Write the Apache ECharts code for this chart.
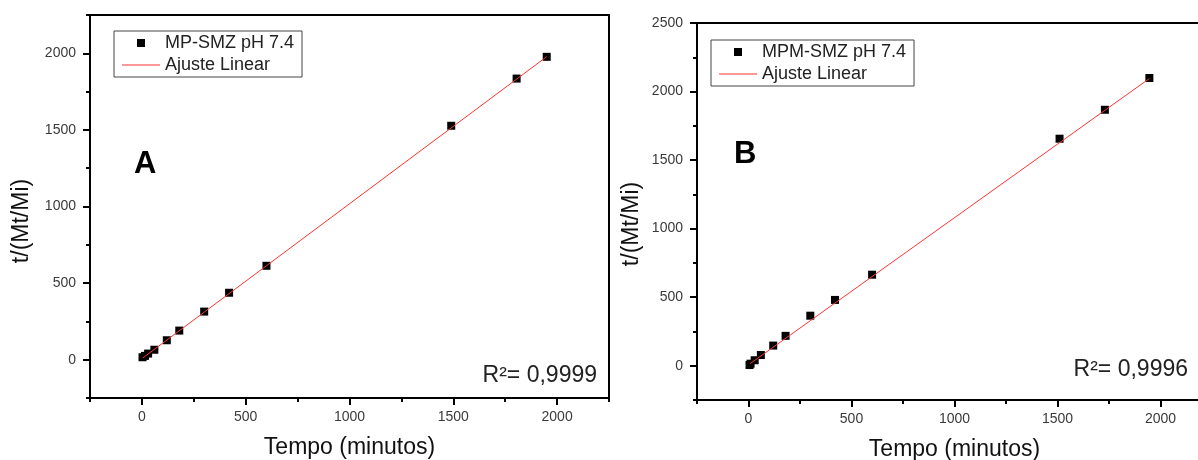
<!DOCTYPE html>
<html>
<head>
<meta charset="utf-8">
<script src="https://cdn.jsdelivr.net/npm/echarts@6/dist/echarts.min.js"></script>
<style>
html,body{margin:0;padding:0;background:#fff;}
#c{width:1198px;height:460px;}
</style>
</head>
<body>
<div id="c"></div>
<script>
// ---- Data ----
const timeA = [3, 15, 30, 60, 120, 180, 300, 420, 600, 1490, 1805, 1950];
const ratioA = [16, 25, 40, 65, 127, 190, 314, 437, 613, 1527, 1835, 1977];
const fitA = [[5, 12], [1950, 1978]];

const timeB = [5, 10, 30, 60, 120, 180, 300, 420, 600, 1510, 1730, 1946];
const ratioB = [5, 15, 40, 78, 147, 218, 365, 480, 664, 1656, 1867, 2099];
const fitB = [[8, 15], [1946, 2095]];

const nameA = 'MP-SMZ pH 7.4';
const nameB = 'MPM-SMZ pH 7.4';
const fitName = 'Ajuste Linear';
const r2A = 'R²= 0,9999';
const r2B = 'R²= 0,9996';
const xTitle = 'Tempo (minutos)';
const yTitle = 't/(Mt/Mi)';

const xMajor = [0, 500, 1000, 1500, 2000];
const xMinor = [-250, 250, 750, 1250, 1750, 2250];
const yMajorA = [0, 500, 1000, 1500, 2000];
const yMinorA = [-250, 250, 750, 1250, 1750, 2250];
const yMajorB = [0, 500, 1000, 1500, 2000, 2500];
const yMinorB = [-250, 250, 750, 1250, 1750, 2250];

const FF = 'Liberation Sans, Arial, sans-serif';
const pairs = (xs, ys) => xs.map((x, i) => [x, ys[i]]);

function mainAxis(gridIndex, pos, min, max, major, name, gap) {
  return {
    type: 'value', gridIndex, position: pos, min, max,
    name, nameLocation: 'middle', nameGap: gap,
    nameTextStyle: { fontFamily: FF, fontSize: 23, color: '#111' },
    axisLine: { show: true, onZero: false, lineStyle: { color: '#000', width: 2 } },
    axisTick: { show: true, inside: false, length: 7, customValues: major, lineStyle: { color: '#000', width: 2 } },
    axisLabel: { show: true, customValues: major, margin: pos === 'left' ? 14 : 12,
      formatter: v => String(v),
      fontFamily: FF, fontSize: 14, color: '#3a3a3a' },
    splitLine: { show: false }
  };
}
function minorAxis(gridIndex, pos, min, max, minor) {
  return {
    type: 'value', gridIndex, position: pos, min, max,
    axisLine: { show: false, onZero: false },
    axisTick: { show: true, inside: false, length: 4, customValues: minor, lineStyle: { color: '#000', width: 2 } },
    axisLabel: { show: false },
    splitLine: { show: false }
  };
}
function legendAt(left, top, scatterName) {
  return {
    left, top, orient: 'vertical', borderColor: '#444', borderWidth: 1, borderRadius: 0,
    padding: [3, 8, 3, 8], itemGap: 4, itemWidth: 38, itemHeight: 8,
    textStyle: { fontFamily: FF, fontSize: 18, color: '#222' },
    data: [
      { name: scatterName, icon: 'path://M0,0h1v1h-1z' },
      { name: fitName, icon: 'path://M0,0h38v1h-38z' }
    ]
  };
}

const option = {
  animation: false,
  backgroundColor: '#fff',
  grid: [
    { left: 90, top: 15, width: 519, height: 383, outerBoundsMode: 'none', containLabel: false,
      show: true, borderColor: '#000', borderWidth: 2, backgroundColor: 'transparent' },
    { left: 697, top: 23, width: 515, height: 377, outerBoundsMode: 'none', containLabel: false,
      show: true, borderColor: '#000', borderWidth: 2, backgroundColor: 'transparent' }
  ],
  xAxis: [
    mainAxis(0, 'bottom', -250, 2250, xMajor, xTitle, 38),
    minorAxis(0, 'bottom', -250, 2250, xMinor),
    mainAxis(1, 'bottom', -250, 2250, xMajor, xTitle, 38),
    minorAxis(1, 'bottom', -250, 2250, xMinor)
  ],
  yAxis: [
    Object.assign(mainAxis(0, 'left', -250, 2250, yMajorA, '', 0), { name: '' }),
    minorAxis(0, 'left', -250, 2250, yMinorA),
    Object.assign(mainAxis(1, 'left', -250, 2500, yMajorB, '', 0), { name: '' }),
    minorAxis(1, 'left', -250, 2500, yMinorB)
  ],
  legend: [legendAt(114, 31, nameA), legendAt(711, 40, nameB)],
  graphic: [
    { type: 'text', x: 22, y: 221, rotation: Math.PI / 2,
      style: { text: yTitle, align: 'center', verticalAlign: 'middle', fontFamily: FF, fontSize: 23, fill: '#111' } },
    { type: 'text', x: 632, y: 224, rotation: Math.PI / 2,
      style: { text: yTitle, align: 'center', verticalAlign: 'middle', fontFamily: FF, fontSize: 23, fill: '#111' } },
    { type: 'text', left: 134, top: 149, style: { text: 'A', fontFamily: FF, fontWeight: 'bold', fontSize: 31, fill: '#000' } },
    { type: 'text', left: 734, top: 139, style: { text: 'B', fontFamily: FF, fontWeight: 'bold', fontSize: 31, fill: '#000' } },
    { type: 'text', right: 601, top: 364, style: { text: r2A, fontFamily: FF, fontSize: 23, fill: '#222' } },
    { type: 'text', right: 10, top: 358, style: { text: r2B, fontFamily: FF, fontSize: 23, fill: '#222' } }
  ],
  series: [
    { name: fitName, type: 'line', xAxisIndex: 0, yAxisIndex: 0, data: fitA, showSymbol: false, symbol: 'none',
      lineStyle: { color: '#ff3333', width: 1 }, itemStyle: { color: '#ff3333' }, z: 3 },
    { name: nameA, type: 'scatter', xAxisIndex: 0, yAxisIndex: 0, data: pairs(timeA, ratioA), symbol: 'rect', symbolSize: 8,
      itemStyle: { color: '#000', opacity: 1 }, z: 2 },
    { name: fitName, type: 'line', xAxisIndex: 2, yAxisIndex: 2, data: fitB, showSymbol: false, symbol: 'none',
      lineStyle: { color: '#ff3333', width: 1 }, itemStyle: { color: '#ff3333' }, z: 3 },
    { name: nameB, type: 'scatter', xAxisIndex: 2, yAxisIndex: 2, data: pairs(timeB, ratioB), symbol: 'rect', symbolSize: 8,
      itemStyle: { color: '#000', opacity: 1 }, z: 2 }
  ]
};
const chart = echarts.init(document.getElementById('c'), null, { renderer: 'canvas' });
chart.setOption(option);
</script>
</body>
</html>
